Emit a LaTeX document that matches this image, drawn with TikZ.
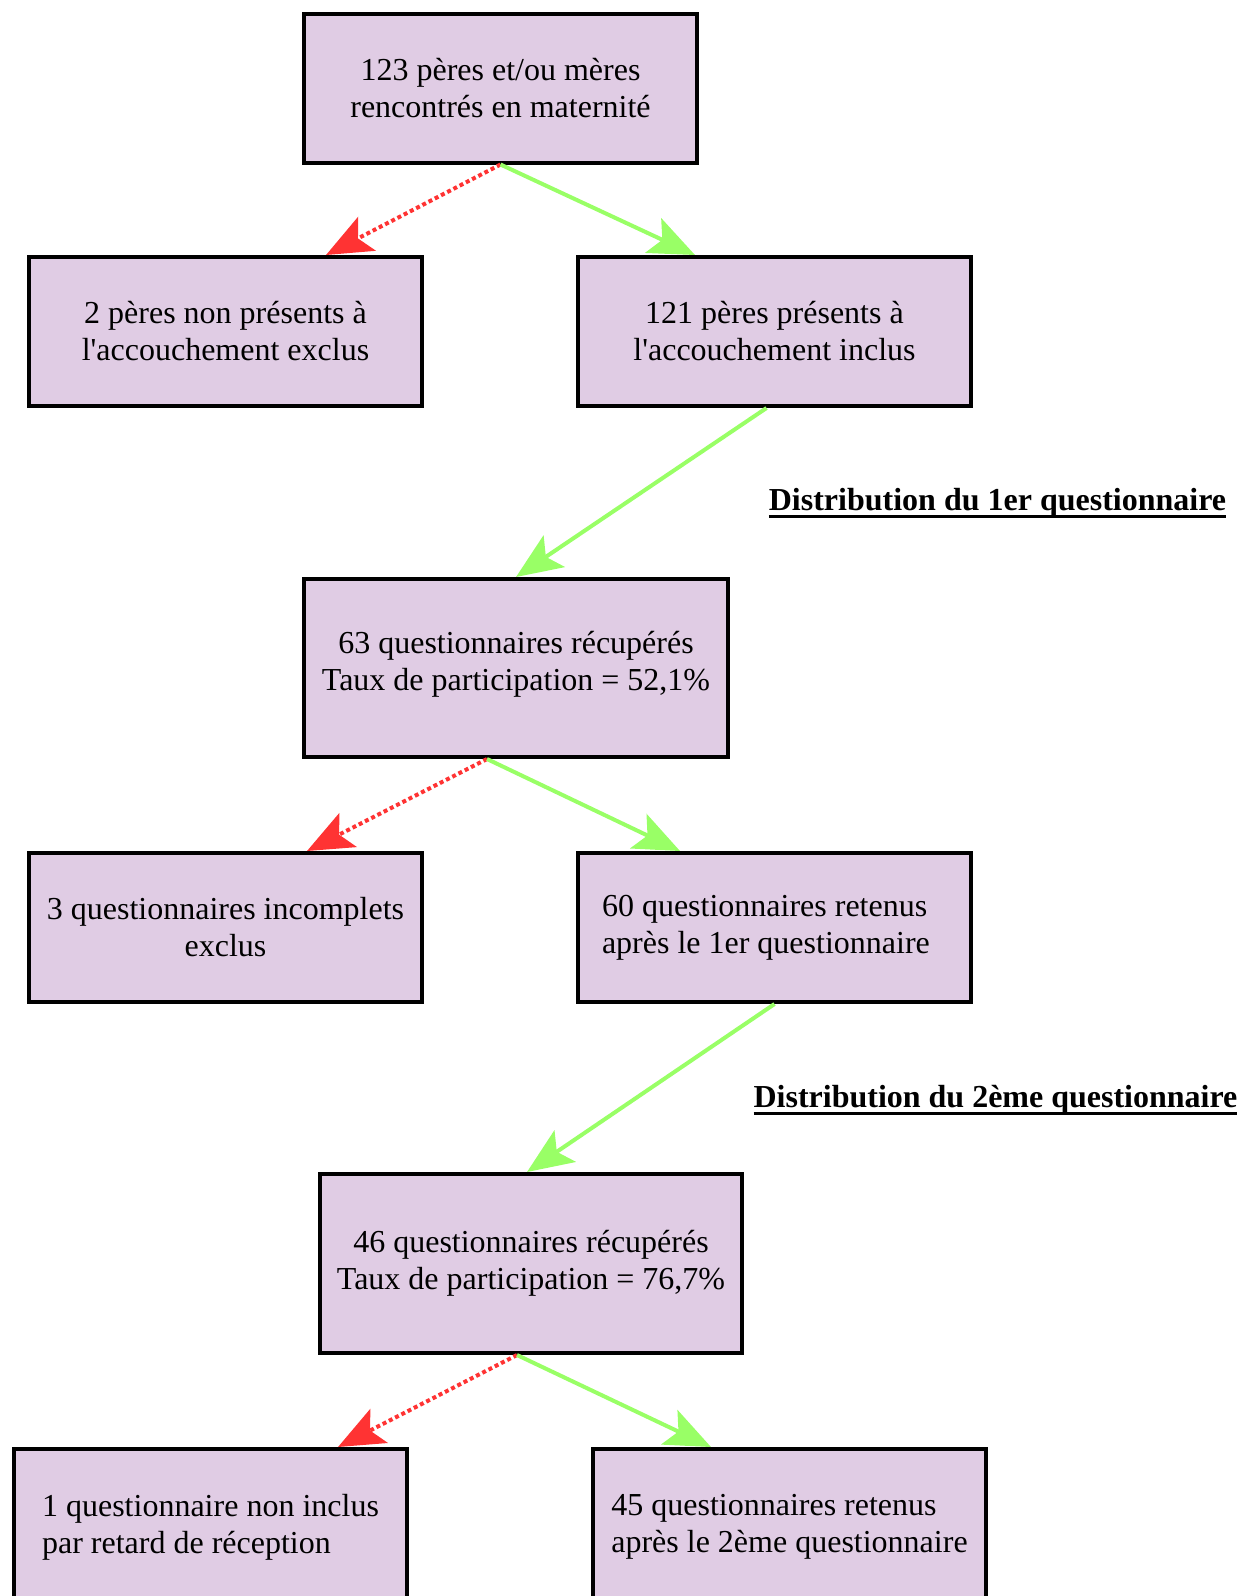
\documentclass[tikz,border=0pt]{standalone}
\usepackage{fontspec}
\setmainfont{Liberation Serif}[Ligatures=TeXOff]
\usepackage{xcolor}
\usetikzlibrary{arrows.meta,calc}
\definecolor{mauve}{RGB}{224,204,228}
\definecolor{rouge}{RGB}{255,51,51}
\definecolor{vert}{RGB}{153,255,102}
\newcommand\souligne[1]{\setbox0\hbox{#1}\rlap{\rule[-7pt]{\wd0}{2.5pt}}\box0}

\begin{document}
\begin{tikzpicture}[x=1pt,y=-1pt,
    every node/.style={font=\fontsize{32}{37}\selectfont},
    boite/.style={draw, line width=4pt, fill=mauve, minimum width=393pt, minimum height=149pt, align=center, inner sep=0pt},
    haute/.style={boite, minimum height=178pt},
    exclu/.style={draw=rouge, line width=4pt, dash pattern=on 4pt off 3pt, -{Stealth[length=46pt,width=38pt,inset=10pt]}},
    retenu/.style={draw=vert, line width=4pt, -{Stealth[length=46pt,width=38pt,inset=10pt]}}]
      \useasboundingbox (0,0) rectangle (1247,1596);

      \node[boite] (Tous) at (500.5, 88) {123 pères et/ou mères\\rencontrés en maternité};
      \node[boite] (Absents) at (225.5, 331.5) {2 pères non présents à\\l'accouchement exclus};
      \node[boite] (Presents) at (774.5, 331.5) {121 pères présents à\\l'accouchement inclus};

      \node[boite, minimum width=424pt, minimum height=178pt] (Recup) at (516, 668)
        {63 questionnaires récupérés\\Taux de participation = 52,1\%\\[-23pt]};
      \node[boite] (Incomp) at (225.5, 927.5) {3 questionnaires incomplets\\exclus};
      \node[boite, align=flush left, text width=345pt] (Retenus) at (774.5, 927.5) {60 questionnaires retenus\\après le 1er questionnaire};

      \node[boite, minimum width=422pt, minimum height=179pt] (Recupp) at (531, 1263.5)
        {46 questionnaires récupérés\\Taux de participation = 76,7\%};
      \node[haute, align=left] (Retard) at (210.5, 1538) {1 questionnaire non inclus\\par retard de réception\\[-8pt]};
      \node[haute, align=left] (Retenusp) at (789.5, 1538) {45 questionnaires retenus\\après le 2ème questionnaire\\[-8pt]};

      \node (Distun) at (997.5, 503) {\souligne{\textbf{Distribution du 1er questionnaire}}};
      \node (Distdeux) at (995.5, 1100) {\souligne{\textbf{Distribution du 2ème questionnaire}}};

      \draw[exclu] (Tous.south) -- ($(Absents.north east)+(-98,0)$);
      \draw[retenu] (Tous.south) -- ($(Presents.north west)+(119,0)$);
      \draw[retenu] ($(Presents.south)+(-8,0)$) -- (Recup.north);

      \draw[exclu] ($(Recup.south)+(-29,0)$) -- ($(Incomp.north east)+(-117,0)$);
      \draw[retenu] ($(Recup.south)+(-29,0)$) -- ($(Retenus.north west)+(104,0)$);
      \draw[retenu] (Retenus.south) -- ($(Recupp.north)+(-4,0)$);

      \draw[exclu] ($(Recupp.south)+(-14,0)$) -- ($(Retard.north east)+(-71,0)$);
      \draw[retenu] ($(Recupp.south)+(-14,0)$) -- ($(Retenusp.north west)+(120,0)$);
\end{tikzpicture}
\end{document}
